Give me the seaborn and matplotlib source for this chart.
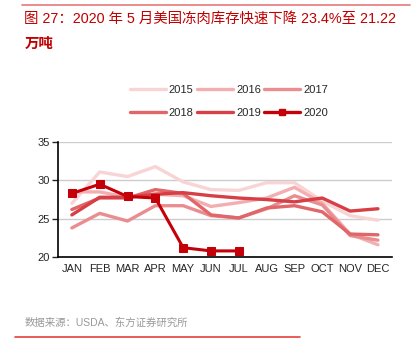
import matplotlib
matplotlib.use("Agg")
import matplotlib.pyplot as plt
import seaborn as sns
import pandas as pd
from matplotlib.lines import Line2D
from matplotlib.ticker import FixedLocator

months = ["JAN", "FEB", "MAR", "APR", "MAY", "JUN", "JUL", "AUG", "SEP", "OCT", "NOV", "DEC"]
years = ["2015", "2016", "2017", "2018", "2019", "2020"]
v2015 = [27.0, 31.1, 30.5, 31.8, 29.8, 28.8, 28.7, 29.7, 29.7, 27.3, 25.4, 24.8]
v2016 = [28.5, 28.5, 27.8, 28.2, 28.0, 26.6, 27.1, 27.7, 29.1, 27.0, 23.0, 21.6]
v2017 = [23.8, 25.7, 24.7, 26.7, 26.7, 25.4, 25.1, 26.3, 28.0, 26.8, 22.8, 22.2]
v2018 = [26.2, 27.7, 27.7, 28.8, 28.3, 25.5, 25.1, 26.4, 26.7, 25.9, 23.0, 22.9]
v2019 = [25.5, 27.8, 27.8, 28.2, 28.4, 28.0, 27.7, 27.5, 27.2, 27.7, 26.0, 26.3]
v2020 = [28.3, 29.5, 27.9, 27.7, 21.22, 20.8, 20.8]

series = {"2015": v2015, "2016": v2016, "2017": v2017, "2018": v2018, "2019": v2019, "2020": v2020}
colors = ["#f9d4d5", "#f2aeb0", "#ea8d90", "#e0666a", "#d63f45", "#c40008"]

rows = []
for y in years:
    for i, val in enumerate(series[y]):
        rows.append({"year": y, "pos": i, "value": val})
df = pd.DataFrame(rows)

sns.set_style("white")
plt.rcParams["font.family"] = ["Liberation Sans", "Noto Sans CJK SC", "DejaVu Sans"]

fig = plt.figure(figsize=(4.2, 3.57), dpi=100)
ax = fig.add_axes([0.138, 0.280, 0.795, 0.322])

for y, c in zip(years, colors):
    sub = df[df["year"] == y]
    if y == "2020":
        sns.lineplot(data=sub, x="pos", y="value", ax=ax, color=c, lw=2.2,
                     marker="s", markersize=6, markeredgecolor=c, zorder=5)
    else:
        sns.lineplot(data=sub, x="pos", y="value", ax=ax, color=c, lw=2.4, zorder=3)

ax.set_xlim(-0.5, 11.5)
ax.set_ylim(20, 35)
ax.set_yticks([20, 25, 30, 35])
ax.set_xticks(range(12))
ax.set_xticklabels(months)
ax.xaxis.set_minor_locator(FixedLocator([i + 0.5 for i in range(-1, 12)]))
ax.tick_params(axis="x", which="major", length=0, labelsize=8, pad=5)
ax.tick_params(axis="x", which="minor", length=4, width=1, direction="out", color="black")
ax.tick_params(axis="y", length=4, width=1, direction="out", labelsize=8, pad=2, left=True)
ax.set_xlabel("")
ax.set_ylabel("")
ax.grid(axis="y", color="#cccccc", lw=1)
ax.set_axisbelow(True)
for s in ["top", "right"]:
    ax.spines[s].set_visible(False)
for s in ["left", "bottom"]:
    ax.spines[s].set_color("black")
    ax.spines[s].set_linewidth(1.2)
if ax.get_legend():
    ax.get_legend().remove()

handles = {}
for y, c in zip(years, colors):
    if y == "2020":
        handles[y] = Line2D([], [], color=c, lw=2.4, marker="s", markersize=5)
    else:
        handles[y] = Line2D([], [], color=c, lw=2.4)
order = ["2015", "2018", "2016", "2019", "2017", "2020"]
leg = fig.legend([handles[k] for k in order], order, loc="center", ncol=3,
                 frameon=False, fontsize=8, handlelength=3.2, handletextpad=0.3,
                 columnspacing=0.3, labelspacing=1.15)
leg.set_bbox_to_anchor((0.545, 0.716), transform=fig.transFigure)

fig.add_artist(Line2D([0.052, 0.975], [0.986, 0.986], color="#e8787a", lw=1.2))
fig.text(0.058, 0.948, "图 27：2020 年 5 月美国冻肉库存快速下降 23.4%至 21.22",
         color="#c00000", fontsize=10.4, va="center", ha="left")
fig.text(0.058, 0.876, "万吨", color="#c00000", fontsize=10.4, va="center", ha="left",
         fontweight="bold")
fig.text(0.058, 0.095, "数据来源：USDA、东方证券研究所", color="#999999", fontsize=7.5,
         va="center", ha="left")
fig.add_artist(Line2D([0.036, 0.714], [0.055, 0.055], color="#e8403f", lw=1.2))

fig.savefig("out.png", dpi=100)
